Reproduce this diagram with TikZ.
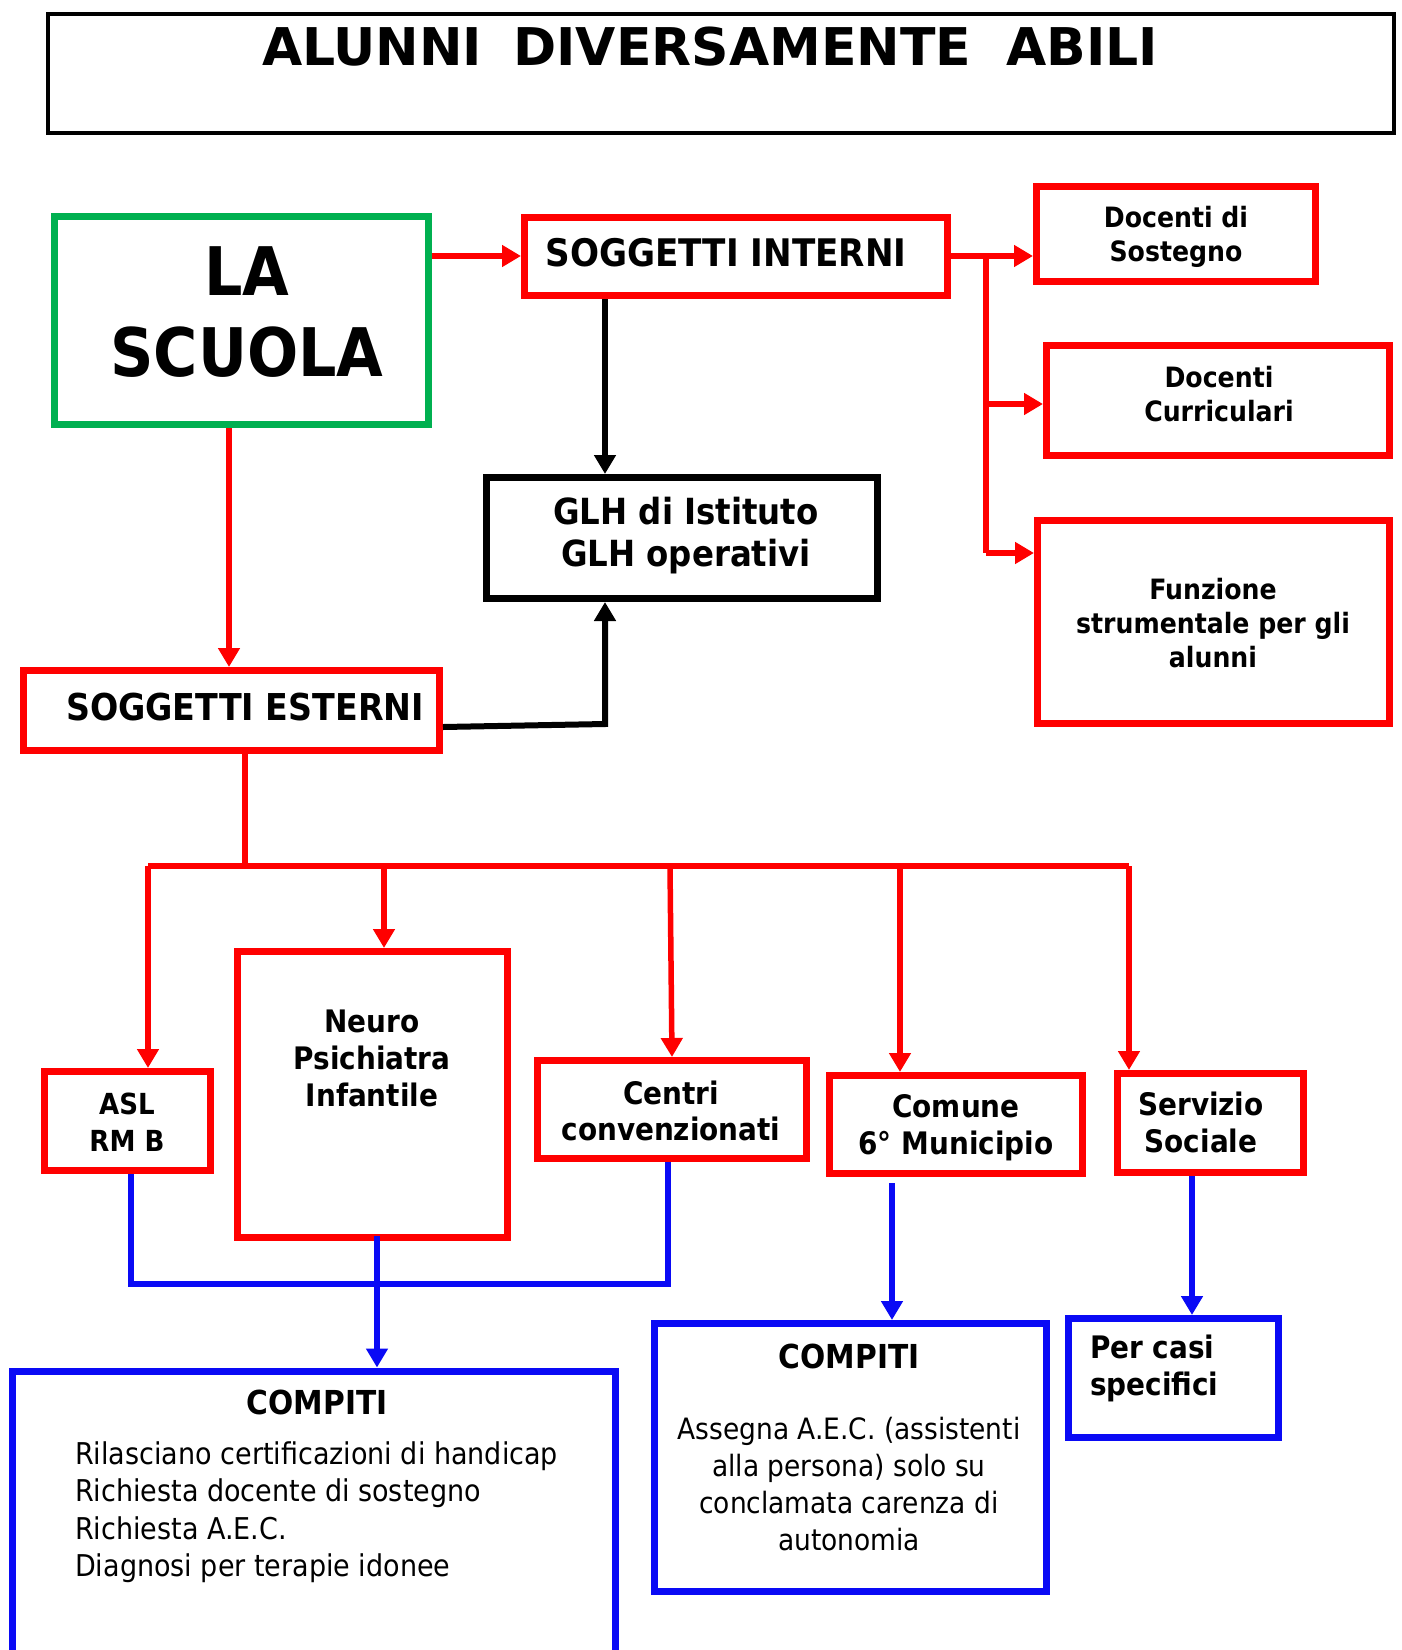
\documentclass[tikz,border=0pt]{standalone}
\usepackage{fontspec}
\setmainfont{DejaVu Sans Condensed}[BoldFont={DejaVu Sans Condensed Bold}]
\newfontfamily\titlefont{DejaVu Sans}[BoldFont={DejaVu Sans Bold}]
\usetikzlibrary{arrows.meta}
\definecolor{myred}{RGB}{255,0,0}
\definecolor{mygreen}{RGB}{0,176,80}
\definecolor{myblue}{RGB}{10,10,245}
\newcommand{\fs}[2]{\fontsize{#1}{#2}\selectfont}
\tikzset{
  box/.style={draw, line width=7pt, inner sep=0pt, fill=none},
  redbox/.style={box, draw=myred},
  bluebox/.style={box, draw=myblue},
  blackbox/.style={box, draw=black},
  greenbox/.style={box, draw=mygreen},
  txt/.style={inner sep=0pt, align=center, font=\bfseries},
  redline/.style={draw=myred, line width=5.5pt},
  blueline/.style={draw=myblue, line width=6pt},
  blackline/.style={draw=black, line width=6pt},
  tip/.style={-{Triangle[width=21pt,length=19pt]}},
}
\begin{document}
\begin{tikzpicture}[x=1pt,y=-1pt]
\useasboundingbox (0,0) rectangle (1402,1650);
\fill[white] (0,0) rectangle (1402,1650);
% title
\node[blackbox, line width=4.5pt, minimum width=1346pt, minimum height=119pt] (title) at (721,73.5) {};
\node[txt, font=\titlefont\bfseries\fs{52}{60}] (titletext) at (710,47) {ALUNNI\hspace{13pt} DIVERSAMENTE\hspace{17pt} ABILI};
% boxes
\node[greenbox, minimum width=374pt, minimum height=208pt] (scuola) at (241.5,320.5) {};
\node[txt, font=\bfseries\fs{67}{81}] (scuolatext) at (247,312) {LA\\SCUOLA};
\node[redbox, minimum width=423pt, minimum height=78pt] (intern) at (736,256.5) {};
\node[txt, font=\bfseries\fs{38}{44}] (interntext) at (726,252.6) {SOGGETTI INTERNI};
\node[redbox, minimum width=279pt, minimum height=95pt] (sost) at (1176,234) {};
\node[txt, font=\bfseries\fs{28}{34}] (sosttext) at (1176,237) {Docenti di\\Sostegno};
\node[redbox, minimum width=343pt, minimum height=110pt] (curr) at (1218,400.5) {};
\node[txt, font=\bfseries\fs{28}{34}] (currtext) at (1219,394) {Docenti\\Curriculari};
\node[redbox, minimum width=352pt, minimum height=203pt] (funz) at (1213.5,622) {};
\node[txt, font=\bfseries\fs{28}{34}] (funztext) at (1213,623) {Funzione\\strumentale per gli\\alunni};
\node[blackbox, minimum width=391pt, minimum height=121pt] (glh) at (682,538) {};
\node[txt, font=\bfseries\fs{36}{42}] (glhtext) at (686,536) {GLH di Istituto\\GLH operativi};
\node[redbox, minimum width=416pt, minimum height=80pt] (estern) at (231.5,710.5) {};
\node[txt, font=\bfseries\fs{37}{44}] (esterntext) at (245,707) {SOGGETTI ESTERNI};
\node[redbox, minimum width=166pt, minimum height=99pt] (asl) at (127.5,1121) {};
\node[txt, font=\bfseries\fs{29}{37}] (asltext) at (127,1122.5) {ASL\\RM B};
\node[redbox, minimum width=270pt, minimum height=286pt] (neuro) at (372.5,1094.5) {};
\node[txt, font=\bfseries\fs{31}{37}] (neurotext) at (372,1058) {Neuro\\Psichiatra\\Infantile};
\node[redbox, minimum width=269pt, minimum height=98pt] (centri) at (672,1109.5) {};
\node[txt, font=\bfseries\fs{31}{36}] (centritext) at (671,1111) {Centri\\convenzionati};
\node[redbox, minimum width=253pt, minimum height=98pt] (comune) at (956,1124.5) {};
\node[txt, font=\bfseries\fs{31}{37}] (comunetext) at (956,1127.5) {Comune\\6° Municipio};
\node[redbox, minimum width=186pt, minimum height=99pt] (serv) at (1210.5,1123) {};
\node[txt, font=\bfseries\fs{31}{37}] (servtext) at (1201,1122.5) {Servizio\\Sociale};
\node[bluebox, minimum width=603pt, minimum height=296pt] (comp1) at (314,1519) {};
\node[txt, font=\bfseries\fs{33}{37}] (comp1title) at (317,1402) {COMPITI};
\node[inner sep=0pt, align=left, anchor=west, font=\fs{30}{37.5}] (comp1text) at (75,1512) {Rilasciano certificazioni di handicap\\Richiesta docente di sostegno\\Richiesta A.E.C.\\Diagnosi per terapie idonee};
\node[bluebox, minimum width=392pt, minimum height=268pt] (comp2) at (850.5,1457.5) {};
\node[txt, font=\bfseries\fs{33}{37}] (comp2title) at (849,1356) {COMPITI};
\node[inner sep=0pt, align=center, font=\fs{29.4}{37}] (comp2text) at (849,1484.5) {Assegna A.E.C. (assistenti\\alla persona) solo su\\conclamata carenza di\\autonomia};
\node[bluebox, minimum width=210pt, minimum height=119pt] (casi) at (1173.5,1378) {};
\node[txt, align=left, anchor=west, font=\bfseries\fs{31}{37}] (casitext) at (1090,1368.5) {Per casi\\specifici};
% junction coordinates
\coordinate (xA) at (229,0);
\coordinate (yA) at (0,256);
\coordinate (xB) at (986,0);
\coordinate (yC) at (0,404);
\coordinate (yD) at (0,553);
\coordinate (xG) at (605,0);
\coordinate (kG) at (605,724);
\coordinate (xE) at (245,0);
\coordinate (busL) at (148,866);
\coordinate (busR) at (1129,866);
\coordinate (xN) at (384,0);
\coordinate (xCt) at (670,0);
\coordinate (xCb) at (672,0);
\coordinate (xM) at (900,0);
\coordinate (xS) at (1129,0);
\coordinate (xa) at (131,0);
\coordinate (xc) at (668,0);
\coordinate (yb) at (0,1284);
\coordinate (xn) at (377,0);
\coordinate (xm) at (892,0);
\coordinate (xs) at (1192,0);
% red connectors
\draw[redline, tip] (scuola.east |- yA) -- (intern.west |- yA);
\draw[redline, tip] (intern.east |- yA) -- (sost.west |- yA);
\draw[redline] (xB |- yA) -- (xB |- yD);
\draw[redline, tip] (xB |- yC) -- (curr.west |- yC);
\draw[redline, tip] (xB |- yD) -- (funz.west |- yD);
\draw[redline, tip] (scuola.south -| xA) -- (estern.north -| xA);
\draw[redline] (estern.south -| xE) -- (xE |- busL);
\draw[redline] (busL) -- (busR);
\draw[redline, tip] (busL) -- (asl.north -| busL);
\draw[redline, tip] (xN |- busL) -- (neuro.north -| xN);
\draw[redline, tip] (xCt |- busL) -- (centri.north -| xCb);
\draw[redline, tip] (xM |- busL) -- (comune.north -| xM);
\draw[redline, tip] (busR) -- (serv.north -| xS);
% black connectors
\draw[blackline, tip] (intern.south -| xG) -- (glh.north -| xG);
\draw[blackline, tip] ([yshift=-16.5pt]estern.east) -- (kG) -- (glh.south -| xG);
% blue connectors
\draw[blueline] (asl.south -| xa) -- (xa |- yb) -- (xc |- yb) -- (centri.south -| xc);
\draw[blueline, tip] ([yshift=5pt]neuro.south -| xn) -- (comp1.north -| xn);
\draw[blueline, tip] ([yshift=-6pt]comune.south -| xm) -- (comp2.north -| xm);
\draw[blueline, tip] (serv.south -| xs) -- (casi.north -| xs);
\end{tikzpicture}
\end{document}
